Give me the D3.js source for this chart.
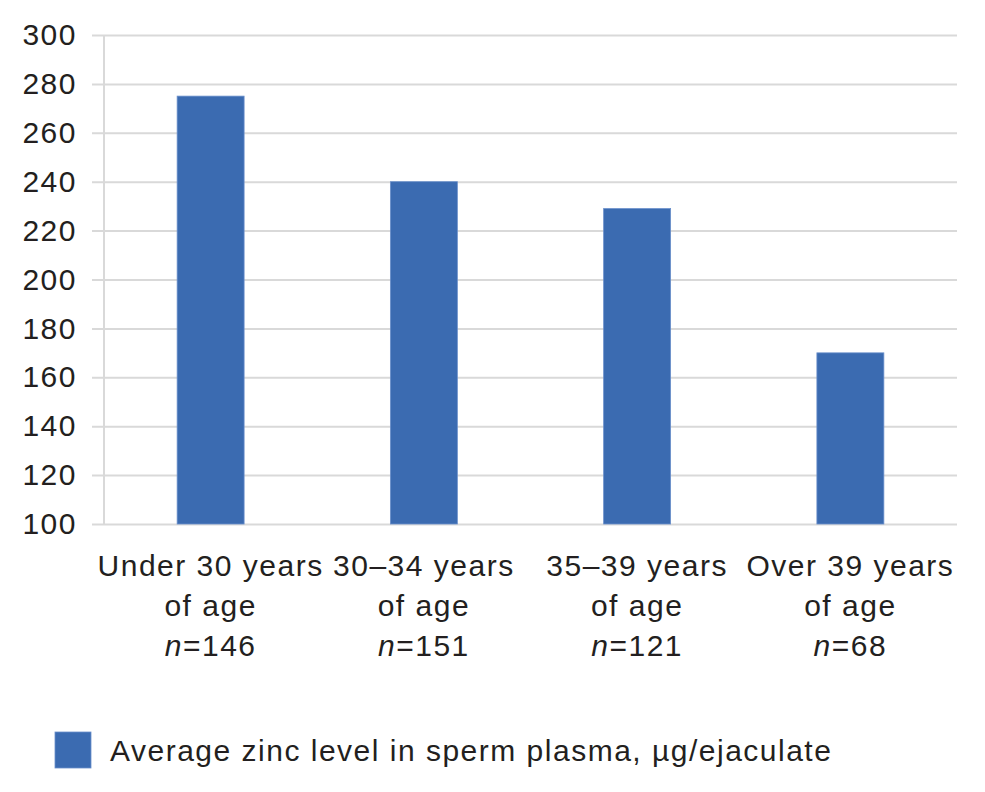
<!DOCTYPE html>
<html>
<head>
<meta charset="utf-8">
<script src="https://cdn.jsdelivr.net/npm/d3@7"></script>
<style>
  body { margin: 0; background: #fff; }
  svg { font-family: "Liberation Sans", Arial, sans-serif; }
  svg text { letter-spacing: 1.5px; }
</style>
</head>
<body>
<svg width="985" height="792"></svg>
<script>
// Данные графика
const categories = ["Under 30 years", "30–34 years", "35–39 years", "Over 39 years"];
const groupN = [146, 151, 121, 68];
const zincValues = [275, 240, 229, 170];
const yTicks = [100, 120, 140, 160, 180, 200, 220, 240, 260, 280, 300];
const legendLabel = "Average zinc level in sperm plasma, µg/ejaculate";

const svg = d3.select("svg");
const area = { left: 104, right: 957, top: 35, bottom: 524 };
const barColor = "#3b6bb1";
const gridColor = "#d9d9d9";
const textColor = "#231f20";
const fontSize = "30px";

// Шкалы
const scX = d3.scaleBand()
    .domain(categories)
    .range([area.left, area.right])
    .paddingInner(0.686)
    .paddingOuter(0.343);

const scY = d3.scaleLinear()
    .domain([100, 300])
    .range([area.bottom, area.top]);

// Сетка и подписи оси Y (засечки выступают влево на 12px)
const axisY = d3.axisLeft(scY)
    .tickValues(yTicks)
    .tickSize(-(area.right - area.left + 12))
    .tickPadding(15)
    .tickFormat(d3.format("d"));

const gY = svg.append("g")
    .attr("transform", `translate(${area.left - 12}, 0)`)
    .call(axisY);
gY.select(".domain").remove();
gY.selectAll(".tick line")
    .attr("stroke", gridColor)
    .attr("stroke-width", 2);
gY.selectAll(".tick text")
    .attr("fill", textColor)
    .style("font-size", fontSize);

// Вертикальная линия оси
svg.append("line")
    .attr("x1", area.left).attr("x2", area.left)
    .attr("y1", scY(300)).attr("y2", scY(100))
    .attr("stroke", gridColor)
    .attr("stroke-width", 2);

// Столбцы
svg.selectAll(".bar")
    .data(categories)
    .enter()
    .append("rect")
    .attr("class", "bar")
    .attr("x", d => scX(d))
    .attr("width", scX.bandwidth())
    .attr("y", (d, i) => scY(zincValues[i]))
    .attr("height", (d, i) => scY(100) - scY(zincValues[i]))
    .attr("fill", barColor)
    .attr("stroke", "#6a8fcb")
    .attr("stroke-width", 0.8);

// Подписи категорий
const labels = svg.selectAll(".xlabel")
    .data(categories)
    .enter()
    .append("text")
    .attr("class", "xlabel")
    .attr("text-anchor", "middle")
    .attr("fill", textColor)
    .style("font-size", fontSize);

labels.append("tspan")
    .attr("x", d => scX(d) + scX.bandwidth() / 2)
    .attr("y", 576)
    .text(d => d);
labels.append("tspan")
    .attr("x", d => scX(d) + scX.bandwidth() / 2)
    .attr("y", 616)
    .text("of age");
const nLine = labels.append("tspan")
    .attr("x", d => scX(d) + scX.bandwidth() / 2)
    .attr("y", 656);
nLine.append("tspan").style("font-style", "italic").text("n");
nLine.append("tspan").text((d, i) => "=" + groupN[i]);

// Легенда
svg.append("rect")
    .attr("x", 55).attr("y", 732)
    .attr("width", 36).attr("height", 36)
    .attr("fill", barColor)
    .attr("stroke", "#6a8fcb")
    .attr("stroke-width", 0.8);
svg.append("text")
    .attr("x", 110).attr("y", 761)
    .attr("fill", textColor)
    .style("font-size", fontSize)
    .text(legendLabel);
</script>
</body>
</html>
